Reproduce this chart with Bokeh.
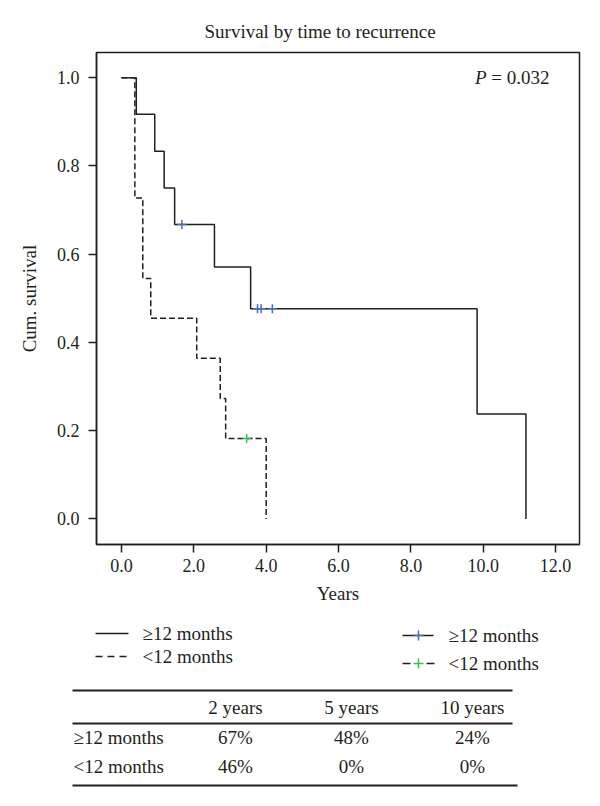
from bokeh.plotting import figure
from bokeh.layouts import column
from bokeh.models import Range1d, FixedTicker, Label
from bokeh.embed import file_html
from bokeh.resources import INLINE
from bokeh.core.properties import value

# ---- data ----
title_text = "Survival by time to recurrence"
p_value_text = "= 0.032"

late_times = [0.0, 0.41, 0.92, 1.18, 1.47, 2.57, 3.57, 9.83, 11.18]
late_surv = [1.0, 0.917, 0.833, 0.75, 0.667, 0.571, 0.476, 0.238, 0.0]
late_cens_t = [1.67, 3.76, 3.86, 4.17]
late_cens_s = [0.667, 0.476, 0.476, 0.476]

early_times = [0.0, 0.37, 0.59, 0.81, 2.08, 2.73, 2.88, 4.0]
early_surv = [1.0, 0.727, 0.545, 0.455, 0.364, 0.273, 0.182, 0.0]
early_cens_t = [3.46]
early_cens_s = [0.182]

x_ticks = [0, 2, 4, 6, 8, 10, 12]
y_ticks = [0.0, 0.2, 0.4, 0.6, 0.8, 1.0]

group_labels = ["\u226512 months", "<12 months"]
table_cols = ["2 years", "5 years", "10 years"]
table_rows = [["67%", "48%", "24%"], ["46%", "0%", "0%"]]

FONT = "Liberation Serif"
INK = "#231f20"
BLUE = "#4a6cc0"
GREEN = "#3dbb4f"
DASH = "6 3"
FS = "19px"

W = 600
H1 = 608
H2 = 198

p = figure(width=W, height=H1, output_backend="svg", toolbar_location=None,
           x_range=Range1d(-0.69, 12.66), y_range=Range1d(-0.058, 1.057),
           min_border_left=96, min_border_right=21, min_border_top=52,
           min_border_bottom=64)
p.frame_align = False
p.grid.visible = False
p.outline_line_color = INK
p.outline_line_width = 1.5
p.background_fill_color = "white"
p.border_fill_color = "white"

p.title.text = title_text
p.title.text_font = FONT
p.title.text_font_size = FS
p.title.text_font_style = "normal"
p.title.text_color = INK
p.title.align = "left"
p.title.offset = 108
p.title.standoff = 22

for ax in (p.xaxis[0], p.yaxis[0]):
    ax.axis_line_color = INK
    ax.axis_line_width = 1.5
    ax.major_tick_line_color = INK
    ax.major_tick_line_width = 1.5
    ax.major_tick_in = 0
    ax.major_tick_out = 8
    ax.minor_tick_line_color = None
    ax.major_label_text_font = FONT
    ax.major_label_text_font_size = "18px"
    ax.major_label_text_color = INK
    ax.axis_label_text_font = FONT
    ax.axis_label_text_font_size = FS
    ax.axis_label_text_font_style = "normal"
    ax.axis_label_text_color = INK

p.xaxis.ticker = FixedTicker(ticks=x_ticks)
p.xaxis.major_label_overrides = {t: f"{t:.1f}" for t in x_ticks}
p.xaxis.major_label_standoff = 6
p.xaxis.axis_label = "Years"
p.xaxis.axis_label_standoff = 8

p.yaxis.ticker = FixedTicker(ticks=y_ticks)
p.yaxis.major_label_overrides = {t: f"{t:.1f}" for t in y_ticks}
p.yaxis.major_label_standoff = 9
p.yaxis.axis_label = "Cum. survival"
p.yaxis.axis_label_standoff = 14

p.step(late_times, late_surv, mode="after", line_color=INK, line_width=1.5)
p.step(early_times, early_surv, mode="after", line_color=INK, line_width=1.5,
       line_dash=DASH)
p.scatter(late_cens_t, late_cens_s, marker="cross", size=9, line_color=BLUE,
          line_width=1.5)
p.scatter(early_cens_t, early_cens_s, marker="cross", size=9, line_color=GREEN,
          line_width=1.5)

p.add_layout(Label(x=9.77, y=1.0, text="P", text_font=FONT,
                   text_font_style="italic", text_font_size=FS,
                   text_color=INK, text_align="left", text_baseline="middle"))
p.add_layout(Label(x=11.83, y=1.0, text=p_value_text, text_font=FONT,
                   text_font_size=FS, text_color=INK, text_align="right",
                   text_baseline="middle"))

# ---- legend + table figure (page coordinates) ----
q = figure(width=W, height=H2, output_backend="svg", toolbar_location=None,
           x_range=Range1d(0, W), y_range=Range1d(H1 + H2, H1),
           min_border=0)
q.frame_align = False
q.axis.visible = False
q.grid.visible = False
q.outline_line_color = None
q.border_fill_color = "white"
q.background_fill_color = "white"

# legend, left column (line styles)
leg_y_left = [633, 656]
q.segment(x0=[95], y0=[leg_y_left[0]], x1=[128], y1=[leg_y_left[0]],
          line_color=INK, line_width=1.5)
q.segment(x0=[95], y0=[leg_y_left[1]], x1=[128], y1=[leg_y_left[1]],
          line_color=INK, line_width=1.5, line_dash="7 5")
q.text(x=[142, 142], y=leg_y_left, text=group_labels, text_font=value(FONT),
       text_font_size=FS, text_color=INK, text_baseline="middle")

# legend, right column (censor markers)
leg_y_right = [635, 663]
q.segment(x0=[402], y0=[leg_y_right[0]], x1=[433], y1=[leg_y_right[0]],
          line_color=INK, line_width=1.5)
q.segment(x0=[402], y0=[leg_y_right[1]], x1=[434], y1=[leg_y_right[1]],
          line_color=INK, line_width=1.5, line_dash="8 16")
q.scatter(x=[418], y=[leg_y_right[0]], marker="cross", size=10,
          line_color=BLUE, line_width=1.5)
q.scatter(x=[418], y=[leg_y_right[1]], marker="cross", size=10,
          line_color=GREEN, line_width=1.5)
q.text(x=[448, 448], y=leg_y_right, text=group_labels, text_font=value(FONT),
       text_font_size=FS, text_color=INK, text_baseline="middle")

# table
col_x = [235, 351, 472]
q.segment(x0=[72, 72, 72], y0=[690, 723, 785], x1=[512, 512, 517],
          y1=[690, 723, 785], line_color=INK, line_width=1.8)
q.text(x=col_x, y=[707] * 3, text=table_cols, text_font=value(FONT),
       text_font_size=FS, text_color=INK, text_align="center",
       text_baseline="middle")
row_y = [737, 766]
q.text(x=[73, 73], y=row_y, text=group_labels, text_font=value(FONT),
       text_font_size=FS, text_color=INK, text_baseline="middle")
for i, row in enumerate(table_rows):
    q.text(x=col_x, y=[row_y[i]] * 3, text=row, text_font=value(FONT),
           text_font_size=FS, text_color=INK, text_align="center",
           text_baseline="middle")

layout = column(p, q, spacing=0)
open("out.html", "w").write(file_html(layout, INLINE))
